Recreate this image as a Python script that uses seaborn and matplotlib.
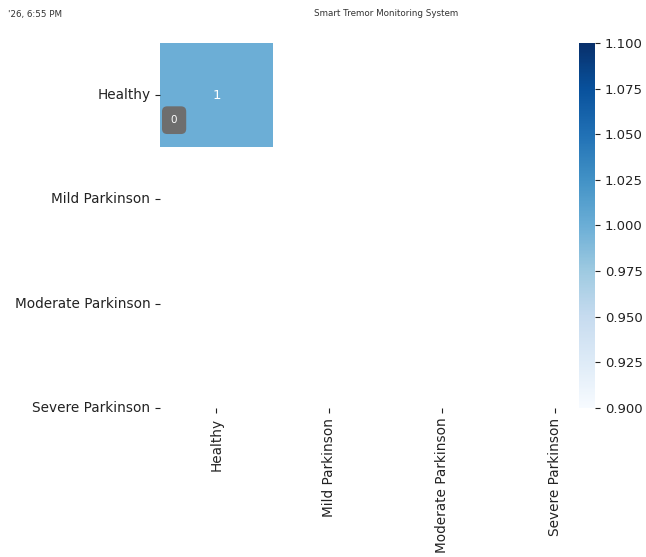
import numpy as np
import matplotlib
matplotlib.use("Agg")
import matplotlib.pyplot as plt
import seaborn as sns

# Class names used for both axes of the confusion matrix
classes = ["Healthy", "Mild Parkinson", "Moderate Parkinson", "Severe Parkinson"]
# Only the "Healthy" class occurred in the evaluated samples
cm_counts = [[1]]

header_time = "'26, 6:55 PM"
header_title = "Smart Tremor Monitoring System"

fig = plt.figure(figsize=(6.46, 5.57), dpi=100)
ax = fig.add_axes([160 / 646, 1 - 408 / 557, (555 - 160) / 646, (408 - 43) / 557])
cax = fig.add_axes([579 / 646, 1 - 408 / 557, 16 / 646, (408 - 43) / 557])

sns.heatmap(np.array(cm_counts), annot=True, fmt="d", cmap="Blues",
            xticklabels=classes, yticklabels=classes, ax=ax, cbar_ax=cax,
            annot_kws={"fontsize": 9.5})

ax.tick_params(axis="both", labelsize=9.8, colors="#222222")
plt.setp(ax.get_xticklabels(), rotation=90)
plt.setp(ax.get_yticklabels(), rotation=0)
cax.tick_params(labelsize=9.5, colors="#222222")

# small count badge shown at the corner of the first cell
ax.text(0.125, 0.74, "0", color="white", fontsize=7.5, ha="center", va="center",
        bbox=dict(boxstyle="round,pad=0.85,rounding_size=0.5", fc="#6e6e6e", ec="none"))

fig.text(8 / 646, 1 - 14 / 557, header_time, fontsize=6.3, color="#333333",
         va="center", ha="left")
fig.text(386 / 646, 1 - 14 / 557, header_title, fontsize=6.3, color="#333333",
         va="center", ha="center")

fig.savefig("out.png", dpi=100)
